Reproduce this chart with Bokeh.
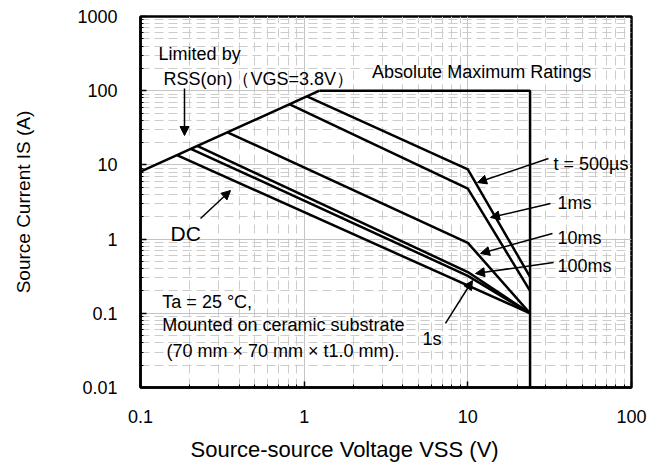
from bokeh.plotting import figure
from bokeh.models import (FixedTicker, CustomJSTickFormatter, Label, Arrow,
                          NormalHead, Range1d, Title)
from bokeh.embed import file_html
from bokeh.resources import INLINE

# ---------------- data ----------------
x_ticks = [0.1, 1, 10, 100]
y_ticks = [0.01, 0.1, 1, 10, 100, 1000]

rss_v = [0.1, 1.24]                 # RSS(on) limit line
rss_i = [8.1, 100]
abs_v = [1.24, 24, 24]              # absolute maximum ratings boundary
abs_i = [100, 100, 0.01]
t500us_v = [1.04, 10, 24]
t500us_i = [84, 8.7, 0.31]
t1ms_v = [0.81, 10, 24]
t1ms_i = [66, 4.8, 0.2]
t10ms_v = [0.34, 10, 24]
t10ms_i = [27.5, 0.89, 0.1]
t100ms_v = [0.222, 10, 24]
t100ms_i = [18, 0.36, 0.1]
t1s_v = [0.203, 10, 24]
t1s_i = [16.5, 0.32, 0.1]
dc_v = [0.167, 24]
dc_i = [13.5, 0.1]

x_title = "Source-source Voltage VSS (V)"
y_title = "Source Current IS (A)"

# annotation texts: (text, x, y, size)
texts = [
    ("Limited by", 0.129, 317, "18px"),
    ("RSS(on)（VGS=3.8V）", 0.138, 146, "18px"),
    ("Absolute Maximum Ratings", 2.6, 181, "18px"),
    ("DC", 0.1526, 1.19, "21px"),
    ("Ta = 25 °C,", 0.136, 0.144, "18px"),
    ("Mounted on ceramic substrate", 0.136, 0.0686, "18px"),
    ("(70 mm × 70 mm × t1.0 mm).", 0.144, 0.0306, "18px"),
    ("t = 500µs", 33.4, 10.4, "18px"),
    ("1ms", 35.3, 3.11, "18px"),
    ("10ms", 35.3, 1.05, "18px"),
    ("100ms", 35.3, 0.44, "18px"),
    ("1s", 5.28, 0.0457, "18px"),
]
# arrows: (x_start, y_start, x_end(tip), y_end(tip))
arrows = [
    (0.1857, 107, 0.1857, 24.9),
    (0.2326, 1.895, 0.3548, 4.52),
    (31.1, 12.2, 11.46, 5.79),
    (32.0, 3.02, 13.75, 1.955),
    (32.9, 1.19, 11.95, 0.64),
    (33.4, 0.484, 11.14, 0.344),
    (7.30, 0.073, 10.68, 0.2767),
]

FONT = "Liberation Sans"

p = figure(width=661, height=475, x_axis_type="log", y_axis_type="log",
           x_range=Range1d(0.1, 100), y_range=Range1d(0.01, 1000),
           output_backend="svg", toolbar_location=None,
           min_border_left=140, min_border_right=30,
           min_border_top=16, min_border_bottom=88)

minor_x = [m * 10.0 ** k for k in range(-1, 2) for m in range(2, 10)]
minor_y = [m * 10.0 ** k for k in range(-2, 3) for m in range(2, 10)]
p.xaxis.ticker = FixedTicker(ticks=x_ticks, minor_ticks=minor_x)
p.yaxis.ticker = FixedTicker(ticks=y_ticks, minor_ticks=minor_y)
fmt = CustomJSTickFormatter(code="return String(parseFloat(tick.toPrecision(6)));")
p.xaxis.formatter = fmt
p.yaxis.formatter = fmt

for ax in (p.xaxis, p.yaxis):
    ax.major_tick_in = 6
    ax.major_tick_out = 0
    ax.minor_tick_in = 3
    ax.minor_tick_out = 0
    ax.major_tick_line_color = "black"
    ax.major_tick_line_width = 1.5
    ax.minor_tick_line_color = "black"
    ax.axis_line_color = "black"
    ax.axis_line_width = 2.5
    ax.major_label_text_font = FONT
    ax.major_label_text_font_size = "18px"
    ax.major_label_text_color = "black"
p.xaxis.major_label_standoff = 22
p.yaxis.major_label_standoff = 23

# y title as the axis label
p.yaxis.axis_label = y_title
p.yaxis.axis_label_text_font = FONT
p.yaxis.axis_label_text_font_size = "19px"
p.yaxis.axis_label_text_font_style = "normal"
p.yaxis.axis_label_text_color = "black"
p.yaxis.axis_label_standoff = 40

# x title placed off-centre (left part of the frame) as in the reference
p.add_layout(Title(text=x_title, align="left", offset=50, standoff=18,
                   text_font=FONT, text_font_size="22px",
                   text_font_style="normal", text_color="black"), "below")

p.grid.grid_line_color = "#c4c4c4"
p.grid.grid_line_width = 1
p.grid.minor_grid_line_color = "#cccccc"
p.grid.minor_grid_line_dash = "9 5"
p.grid.minor_grid_line_width = 1

p.outline_line_color = "black"
p.outline_line_width = 2.5
p.background_fill_color = "white"
p.border_fill_color = "white"

series = [(rss_v, rss_i), (abs_v, abs_i), (t500us_v, t500us_i), (t1ms_v, t1ms_i),
          (t10ms_v, t10ms_i), (t100ms_v, t100ms_i), (t1s_v, t1s_i), (dc_v, dc_i)]
for xs, ys in series:
    p.line(xs, ys, line_color="black", line_width=2.5)

for t, x, y, sz in texts:
    p.add_layout(Label(x=x, y=y, text=t, text_font=FONT, text_font_size=sz,
                       text_baseline="middle", text_align="left", text_color="black"))

for xs, ys, xe, ye in arrows:
    p.add_layout(Arrow(end=NormalHead(size=9, fill_color="black", line_color="black"),
                       x_start=xs, y_start=ys, x_end=xe, y_end=ye,
                       line_color="black", line_width=1.5))

open("out.html", "w").write(file_html(p, INLINE))
